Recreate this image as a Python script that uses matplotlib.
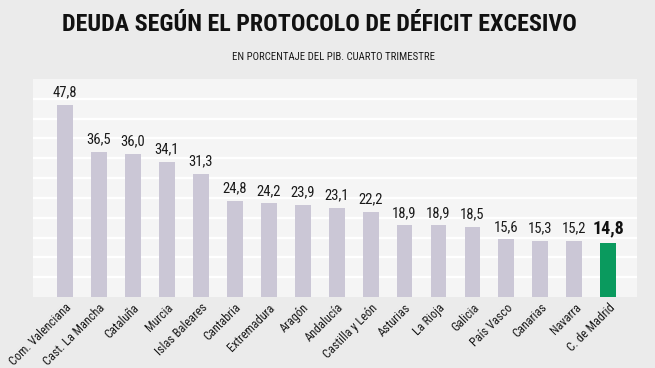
import numpy as np
import matplotlib.pyplot as plt
from matplotlib import font_manager
from matplotlib.font_manager import FontProperties

# Data
regiones = ["Com. Valenciana", "Cast. La Mancha", "Cataluña", "Murcia", "Islas Baleares",
            "Cantabria", "Extremadura", "Aragón", "Andalucía", "Castilla y León",
            "Asturias", "La Rioja", "Galicia", "País Vasco", "Canarias", "Navarra",
            "C. de Madrid"]
deuda = [47.8, 36.5, 36.0, 34.1, 31.3, 24.8, 24.2, 23.9, 23.1, 22.2,
         18.9, 18.9, 18.5, 15.6, 15.3, 15.2, 14.8]
destacada = "C. de Madrid"
titulo = "DEUDA SEGÚN EL PROTOCOLO DE DÉFICIT EXCESIVO"
subtitulo = "EN PORCENTAJE DEL PIB. CUARTO TRIMESTRE"


# the reference uses a narrow grotesque: pick a condensed face if one is installed
def is_narrow(f):
    return ("Narrow" in f.name or "Condensed" in f.name
            or str(f.stretch) in ("condensed", "semi-condensed", "extra-condensed"))


cands = [f for f in font_manager.fontManager.ttflist
         if is_narrow(f) and str(f.style) == "normal"]
prio = ["Roboto Condensed", "Liberation Sans Narrow", "DejaVu Sans", "Open Sans"]


def rank(f):
    for i, p in enumerate(prio):
        if f.name.startswith(p):
            return i
    return len(prio)


def wnum(f):
    try:
        return int(f.weight)
    except (TypeError, ValueError):
        return {"light": 300, "normal": 400, "regular": 400, "medium": 500,
                "bold": 700, "heavy": 800, "black": 900}.get(str(f.weight), 400)


def pick(target):
    if not cands:
        return None
    best = min(cands, key=lambda f: (rank(f), abs(wnum(f) - target)))
    return FontProperties(fname=best.fname)


fp_reg = pick(400) or FontProperties(family="Roboto")
fp_bold = pick(720) or FontProperties(family="Roboto", weight="bold")


def fp(base, size):
    p = base.copy()
    p.set_size(size)
    return p


BG = "#ebebeb"
PANEL = "#f5f5f5"
BAR = "#cbc7d6"
GREEN = "#0a9a5e"

fig = plt.figure(figsize=(6.55, 3.68), dpi=100, facecolor=BG)
W, H = 655, 368
# plot panel: x 33..637, y 79..297 px
ax = fig.add_axes([33 / W, 1 - 297 / H, (637 - 33) / W, (297 - 79) / H])
ax.set_facecolor(PANEL)

x = np.arange(len(regiones))
colors = [GREEN if r == destacada else BAR for r in regiones]
ax.bar(x, deuda, width=0.47, color=colors, zorder=2)

ylo, yhi = 1.8, 53.9
ax.set_ylim(ylo, yhi)
ax.set_xlim(-0.93, len(regiones) - 1 + 0.84)
ax.set_yticks(np.linspace(ylo, yhi, 12)[1:-1])
ax.yaxis.grid(True, color="white", linewidth=1.6, zorder=1)
ax.tick_params(axis="y", length=0, labelleft=False)
ax.tick_params(axis="x", length=0, pad=3)
for s in ax.spines.values():
    s.set_visible(False)

ax.set_xticks(x)
ax.set_xticklabels(regiones, rotation=45, ha="right", rotation_mode="anchor",
                   fontproperties=fp(fp_reg, 8.8), color="#1a1a1a")

for xi, v, r in zip(x, deuda, regiones):
    lbl = f"{v:.1f}".replace(".", ",")
    if r == destacada:
        ax.text(xi, v + 1.3, lbl, ha="center", va="bottom",
                fontproperties=fp(fp_bold, 13), color="#111111")
    else:
        ax.text(xi, v + 1.3, lbl, ha="center", va="bottom",
                fontproperties=fp(fp_reg, 10.5), color="#1a1a1a")

t1 = fig.text(319 / W, 1 - 24.5 / H, titulo, ha="center", va="center",
              fontproperties=fp(fp_bold, 20), color="#111111")
t2 = fig.text(333 / W, 1 - 57 / H, subtitulo, ha="center", va="center",
              fontproperties=fp(fp_reg, 8), color="#1a1a1a")

# fit the header widths to the reference (title ~514 px, subtitle ~202 px)
fig.canvas.draw()
rend = fig.canvas.get_renderer()
for t, target in ((t1, 514), (t2, 202)):
    w = t.get_window_extent(rend).width
    t.set_fontsize(t.get_fontsize() * target / w)

fig.savefig("out.png", dpi=100, facecolor=BG)
